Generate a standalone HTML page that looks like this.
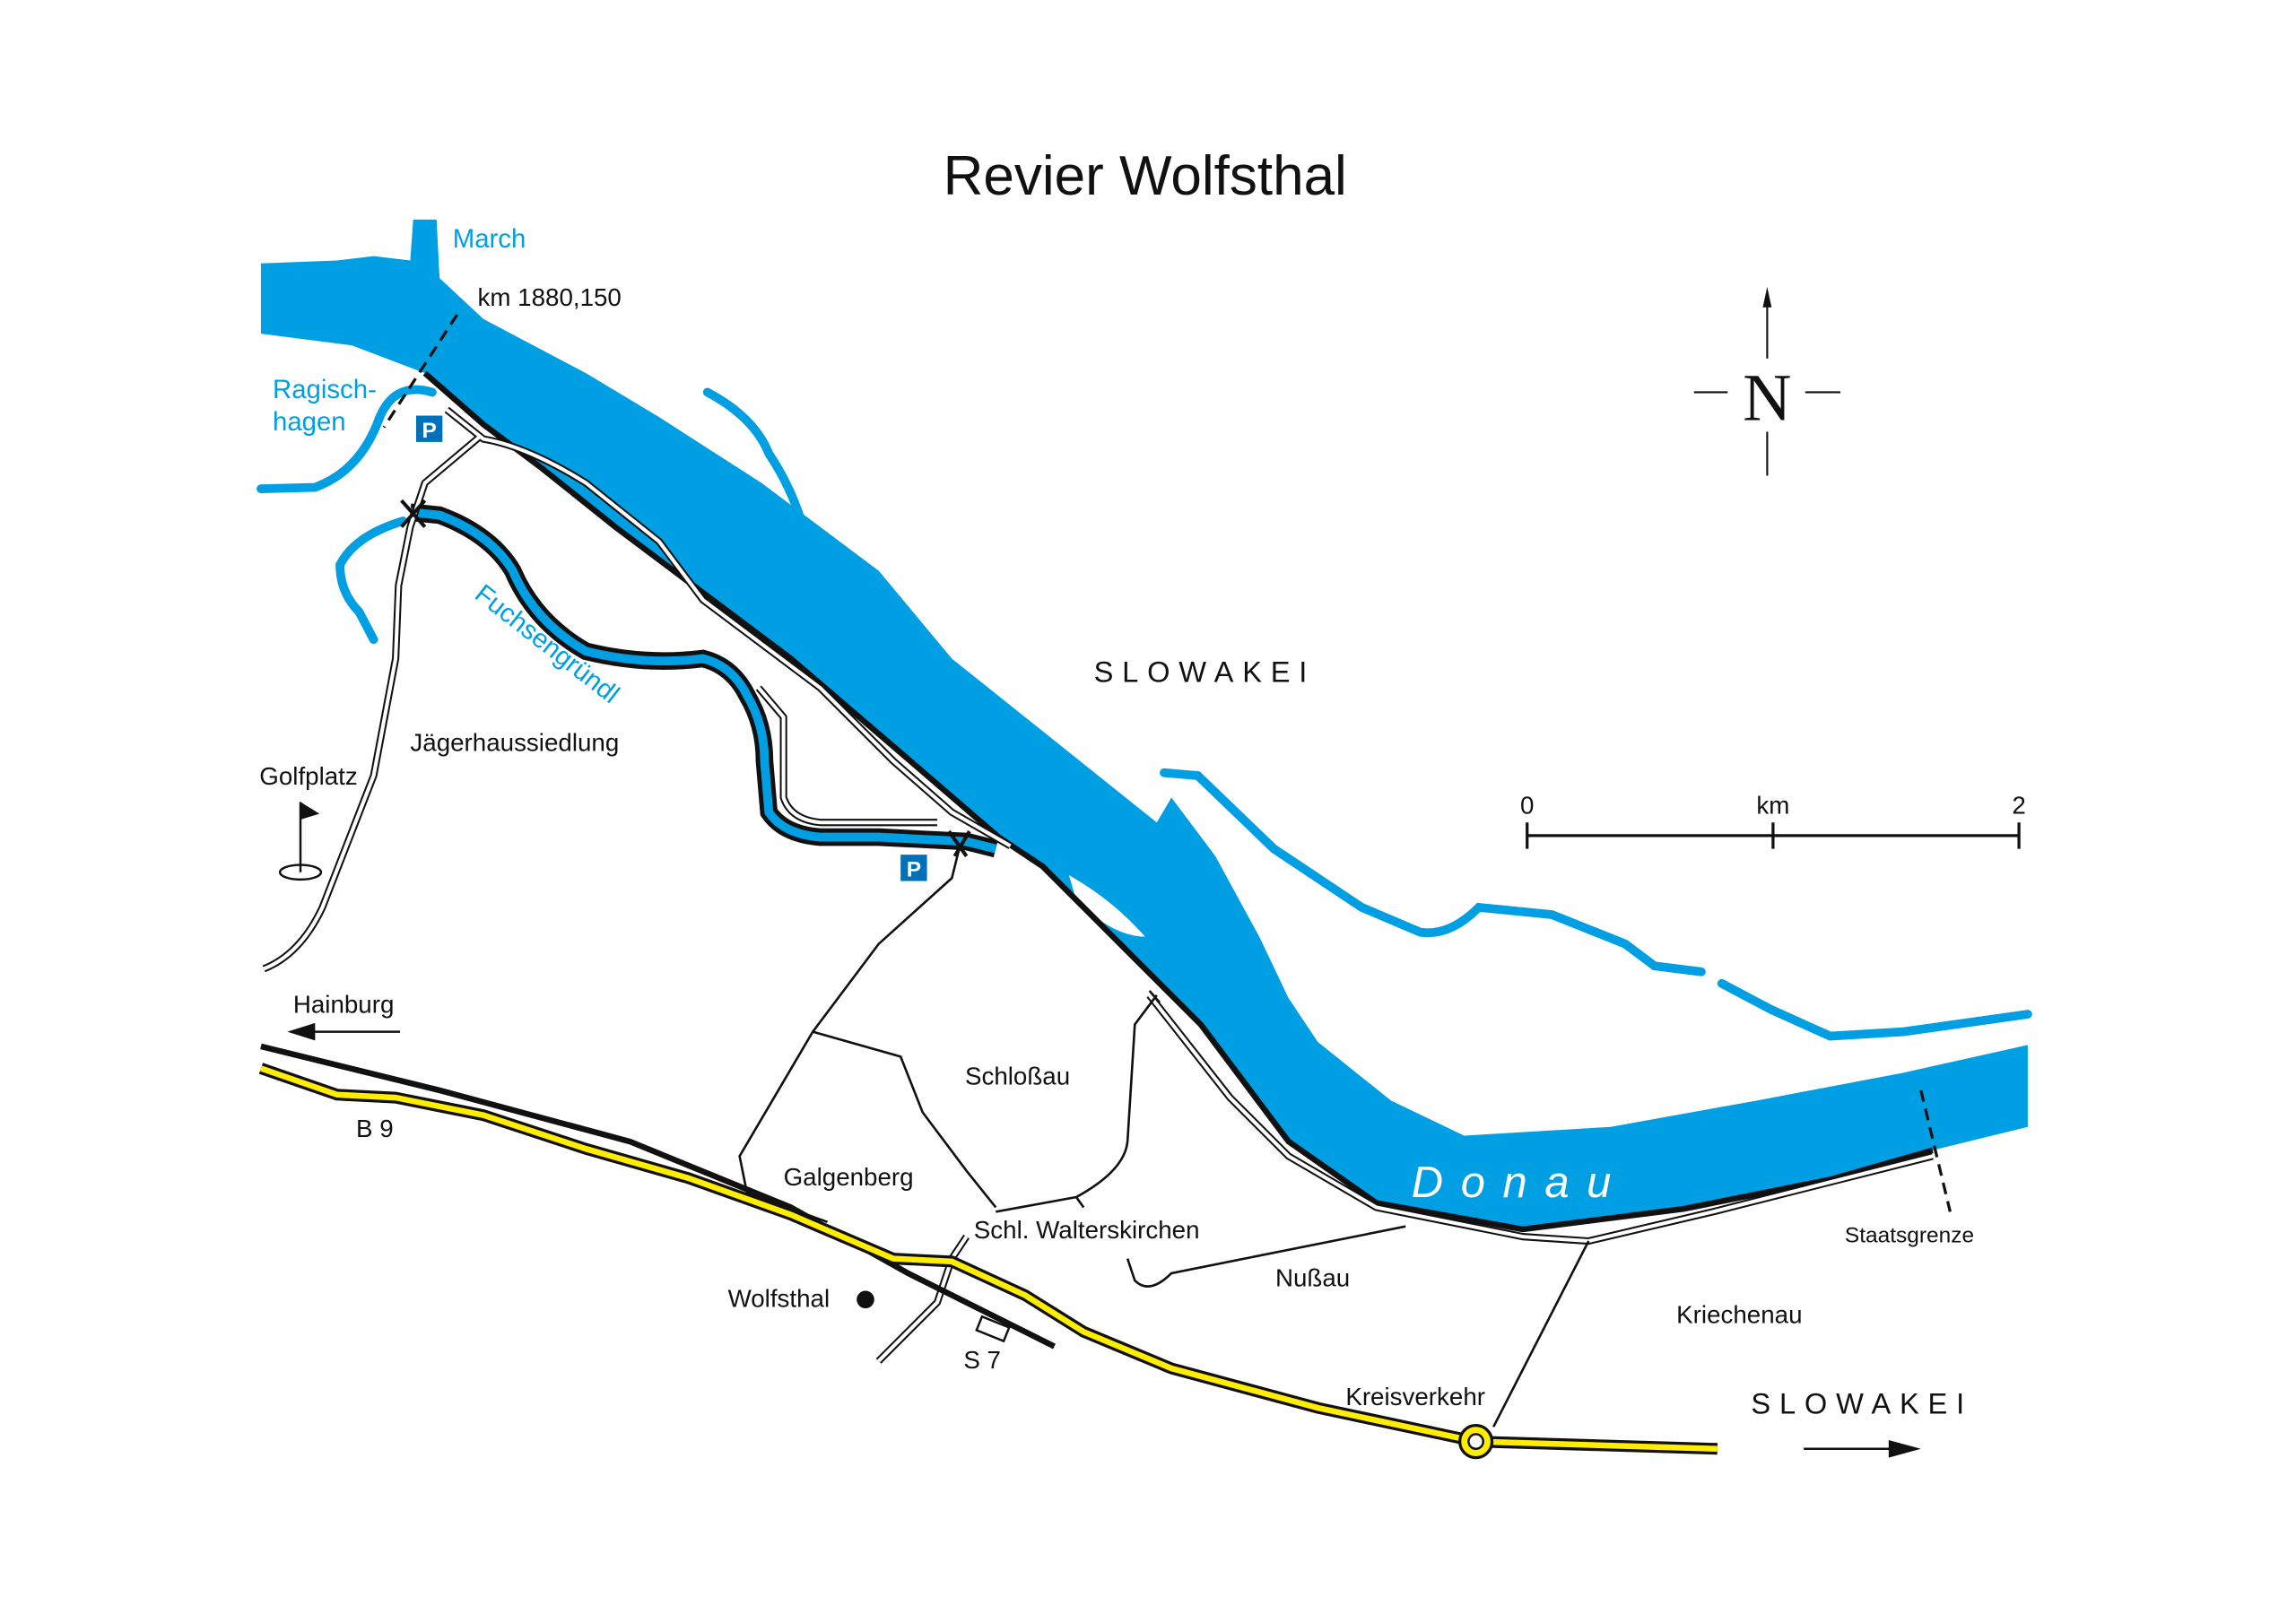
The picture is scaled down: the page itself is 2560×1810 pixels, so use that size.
<!DOCTYPE html>
<html><head><meta charset="utf-8"><style>html,body{margin:0;padding:0;background:#fff}svg{display:block}text{font-family:"Liberation Sans",sans-serif}</style></head>
<body>
<svg width="2560" height="1810" viewBox="0 0 1568 1109" xmlns="http://www.w3.org/2000/svg">
<rect width="1568" height="1109" fill="#fff"/>
<text x="782" y="133" font-size="38" text-anchor="middle" fill="#111">Revier Wolfsthal</text>
<path d="M178,180 L230,178 L255,175 L280,178 L282,150 L298,150 L300,190 L330,218 L400,255 L450,285 L520,330 L600,390 L650,450 L700,490 L750,530 L790,562 L800,545 L830,585 L860,640 L880,682 L900,712 L950,752 L1000,776 L1100,770 L1200,752 L1300,733 L1385,714 L1385,770 L1320,786 L1250,806 L1150,826 L1040,840 L940,822 L880,780 L820,700 L760,640 L712,592 L682,572 L610,510 L540,450 L480,405 L420,360 L370,320 L330,290 L290,255 L240,236 L178,228 Z" fill="#009fe3"/>
<path d="M730,598 Q760,615 782,640 Q760,640 735,615 Z" fill="#fff"/>
<path d="M290,255 L330,290 L370,320 L420,360 L480,405 L540,450 L610,510 L682,572 L712,592 L760,640 L820,700 L880,780 L940,822 L1040,840 L1150,826 L1250,806 L1320,786" fill="none" stroke="#111" stroke-width="4"/>
<g fill="none" stroke="#009fe3" stroke-width="6" stroke-linecap="round">
<path d="M295,268 Q268,260 258,288 Q245,322 215,333 L178,334"/>
<path d="M275,356 Q242,366 232,386 Q232,405 245,418 L255,437"/>
<path d="M483,268 Q515,285 525,310 Q545,340 552,375 L568,390"/>
<path d="M590,405 L600,422"/>
<path d="M795,528 L818,530 L870,580 L930,620 L970,637 Q990,640 1010,620 L1060,625 L1110,645 L1130,660 L1162,664"/>
<path d="M1176,672 L1210,690 L1250,708 L1300,705 L1385,693"/>
<path d="M800,575 Q815,595 828,605"/>
</g>
<path d="M280,350 L300,352 Q335,365 350,390 Q365,425 400,445 Q440,455 480,450 Q500,455 510,475 Q522,495 522,520 L525,555 Q535,570 560,572 L600,572 L660,575 L680,580" fill="none" stroke="#111" stroke-width="12"/>
<path d="M280,350 L300,352 Q335,365 350,390 Q365,425 400,445 Q440,455 480,450 Q500,455 510,475 Q522,495 522,520 L525,555 Q535,570 560,572 L600,572 L660,575 L680,580" fill="none" stroke="#009fe3" stroke-width="6"/>
<g fill="none" stroke="#111" stroke-width="5" stroke-linejoin="round">
<path id="r1" d="M328,298 L290,330 L280,360 L272,400 L270,450 L255,530 L220,620 Q205,652 180,662"/>
<path id="r2" d="M305,280 L330,300 Q360,305 400,330 L450,370 L480,410 L560,470 L610,520 L650,555 L690,578"/>
<path id="r3" d="M518,470 L535,490 L535,545 Q540,560 560,562 L640,562"/>
<path id="r4" d="M785,680 L840,750 L880,790 L940,825 L1040,845 L1085,848 L1170,828 L1320,790"/>
<path id="r5" d="M660,845 L650,860 L640,890 L600,930"/>
</g>
<g fill="none" stroke="#fff" stroke-width="2.5" stroke-linejoin="round">
<use href="#r1"/><use href="#r2"/><use href="#r3"/><use href="#r4"/><use href="#r5"/>
</g>
<g fill="none" stroke="#111" stroke-width="1.6">
<path d="M655,580 L650,600 L600,645 L555,705 L505,790 L510,815 L565,835"/>
<path d="M555,705 L615,722 L630,760 L660,800 L680,825"/>
<path d="M790,680 L775,700 L770,780 Q768,800 735,818 L680,828"/>
<path d="M735,818 L740,825"/>
<path d="M960,838 L800,870 Q785,885 775,875 L770,860"/>
<path d="M1085,848 L1020,975"/>
<path d="M785,677 L792,685"/>
</g>
<path d="M178,715 L300,745 L430,780 L540,825 L620,870 L720,920" fill="none" stroke="#111" stroke-width="4"/>
<path d="M178,730 L230,748 L270,750 L330,762 L400,785 L470,805 L540,830 L610,860 L650,862 L700,885 L740,910 L800,935 L900,962 L1008,985 L1173,990" fill="none" stroke="#111" stroke-width="8"/>
<path d="M178,730 L230,748 L270,750 L330,762 L400,785 L470,805 L540,830 L610,860 L650,862 L700,885 L740,910 L800,935 L900,962 L1008,985 L1173,990" fill="none" stroke="#ffed00" stroke-width="4"/>
<rect x="668" y="903" width="20" height="10" fill="#fff" stroke="#111" stroke-width="1.5" transform="rotate(22 678 908)"/>
<circle cx="1008" cy="985" r="11" fill="#ffed00" stroke="#111" stroke-width="2"/>
<circle cx="1008" cy="985" r="5" fill="#fff" stroke="#111" stroke-width="1.5"/>
<path d="M312,215 L262,292" stroke="#111" stroke-width="2" stroke-dasharray="8,5"/>
<path d="M1312,745 L1332,828" stroke="#111" stroke-width="2" stroke-dasharray="8,5"/>
<g stroke="#111" stroke-width="2.5"><path d="M274,342 L290,360 M290,342 L274,360"/><path d="M648,568 L660,585 M662,568 L652,585"/></g>
<rect x="284" y="284" width="18" height="18" fill="#0070b8"/><text x="293" y="299" font-size="15" font-weight="bold" fill="#fff" text-anchor="middle">P</text>
<rect x="615" y="584" width="18" height="18" fill="#0070b8"/><text x="624" y="599" font-size="15" font-weight="bold" fill="#fff" text-anchor="middle">P</text>
<ellipse cx="205" cy="596" rx="14" ry="5" fill="none" stroke="#111" stroke-width="1.5"/>
<path d="M205,596 L205,548" stroke="#111" stroke-width="1.5"/><path d="M205,548 L218,556 L205,560 Z" fill="#111"/>
<circle cx="591" cy="888" r="6" fill="#111"/>
<path d="M273,705 L210,705" stroke="#111" stroke-width="1.5"/><path d="M196,705 L215,699 L215,711 Z" fill="#111"/>
<path d="M1232,990 L1295,990" stroke="#111" stroke-width="1.5"/><path d="M1312,990 L1290,984 L1290,996 Z" fill="#111"/>
<g stroke="#111" stroke-width="1.3"><path d="M1207,245 L1207,205"/><path d="M1207,295 L1207,325"/><path d="M1157,268 L1180,268"/><path d="M1233,268 L1257,268"/></g>
<path d="M1207,196 L1204,210 L1210,210 Z" fill="#111"/>
<text x="1207" y="287" font-size="46" text-anchor="middle" fill="#111" style="font-family:'Liberation Serif',serif">N</text>
<g stroke="#111" stroke-width="2"><path d="M1043,571 L1379,571"/><path d="M1043,562 L1043,580 M1211,562 L1211,580 M1379,562 L1379,580"/></g>
<g font-size="17" fill="#111">
<text x="1043" y="556" text-anchor="middle">0</text><text x="1211" y="556" text-anchor="middle">km</text><text x="1379" y="556" text-anchor="middle">2</text>
<text x="326" y="209">km 1880,150</text>
<text x="280" y="513">Jägerhaussiedlung</text>
<text x="177" y="536">Golfplatz</text>
<text x="200" y="692">Hainburg</text>
<text x="243" y="777">B 9</text>
<text x="659" y="741">Schloßau</text>
<text x="535" y="810">Galgenberg</text>
<text x="665" y="846">Schl. Walterskirchen</text>
<text x="497" y="893">Wolfsthal</text>
<text x="658" y="935">S 7</text>
<text x="871" y="879">Nußau</text>
<text x="919" y="960">Kreisverkehr</text>
<text x="1145" y="904">Kriechenau</text>
<text x="1260" y="849" font-size="15">Staatsgrenze</text>
</g>
<text x="747" y="466" font-size="20" letter-spacing="6" fill="#111">SLOWAKEI</text>
<text x="1196" y="966" font-size="20" letter-spacing="6" fill="#111">SLOWAKEI</text>
<text x="964" y="818" font-size="30" letter-spacing="12" fill="#fff" font-style="italic">Donau</text>
<g fill="#009fe3" font-size="18">
<text x="309" y="169">March</text>
<text x="186" y="272">Ragisch-</text><text x="186" y="294">hagen</text>
<text x="0" y="0" transform="translate(323,408) rotate(38)">Fuchsengründl</text>
</g>
</svg>
</body></html>
